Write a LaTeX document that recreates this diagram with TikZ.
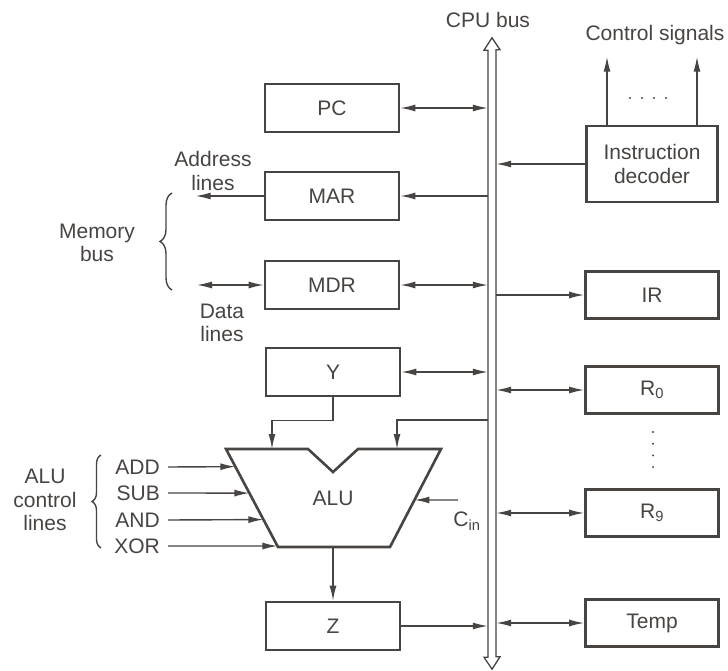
\documentclass[tikz,border=0pt]{standalone}
\usepackage{fontspec}
\setmainfont{Liberation Sans}
\usepackage{xcolor}
\usepackage{tikz}
\usetikzlibrary{arrows.meta, positioning, calc, decorations.pathreplacing}
\definecolor{tinta}{RGB}{72,68,66}

\begin{document}
\begin{tikzpicture}[
    x=1pt, y=-1pt,
    color=tinta,
    font=\fontsize{21}{23.5}\selectfont,
    reg/.style={draw, line width=2.6pt, minimum width=134pt, minimum height=48pt,
                inner sep=0pt, align=center},
    panah/.style={-{Latex[length=15pt,width=7pt]}, line width=1.4pt},
    duapanah/.style={{Latex[length=15pt,width=7pt]}-{Latex[length=15pt,width=7pt]}, line width=1.4pt},
    kurung/.style={decorate, decoration={brace, amplitude=#1}, line width=1.4pt}
  ]
    \path[use as bounding box, fill=white] (0,0) rectangle (728,671);

    % CPU bus
    \node[minimum width=8pt, minimum height=631pt, inner sep=0pt] (bus) at (492,353.5) {};
    \draw[line width=1.3pt, line join=miter] (bus.north) -- ++(8,12) -- ++(-4,0) -- ++(0,607)
      -- ++(4,0) -- (bus.south) -- ++(-8,-12) -- ++(4,0) -- ++(0,-607) -- ++(-4,0) -- cycle;
    \node (cpubus) at (488,20) {CPU bus};

    % left registers
    \node[reg] (pc) at (332,108) {PC};
    \node[reg] (mar) at (332,196) {MAR};
    \node[reg] (mdr) at (332,285) {MDR};
    \node[reg] (yreg) at (333,372) {Y};
    \node[reg] (zreg) at (333,626) {Z};

    % right registers
    \node[reg, minimum width=131pt, minimum height=76pt] (dec) at (652,164) {Instruction\\decoder};
    \node[reg, minimum width=133pt, minimum height=47pt] (ir) at (652,295) {IR};
    \node[reg, minimum width=133pt, minimum height=47pt] (r0) at (652,390) {R\textsubscript{0}};
    \node[reg, minimum width=133pt, minimum height=47pt] (r9) at (652,513) {R\textsubscript{9}};
    \node[reg, minimum width=133pt, minimum height=47pt] (temp) at (652,623) {Temp};

    % ALU
    \coordinate (alutl) at (226,449);
    \coordinate (alutr) at (441,449);
    \coordinate (alubl) at (278,547);
    \coordinate (alubr) at (390,547);
    \draw[line width=2.6pt, line join=miter] (alutl) -- (308,449) -- (333,472) -- (358,449)
      -- (alutr) -- (alubr) -- (alubl) -- cycle;
    \node (alu) at (333,498) {ALU};
    \coordinate (masukA) at (272,449);
    \coordinate (masukB) at (397,449);
    \coordinate (alubot) at (333,547);

    % bus connections
    \draw[duapanah] (pc.east) -- (pc.east -| bus.west);
    \draw[panah] (mar.east -| bus.west) -- (mar.east);
    \draw[duapanah] (mdr.east) -- (mdr.east -| bus.west);
    \draw[duapanah] (yreg.east) -- (yreg.east -| bus.west);
    \draw[panah] (zreg.east) -- (zreg.east -| bus.west);
    \draw[panah] (dec.west) -- (dec.west -| bus.east);
    \draw[panah] (ir.west -| bus.east) -- (ir.west);
    \draw[duapanah] (r0.west) -- (r0.west -| bus.east);
    \draw[duapanah] (r9.west) -- (r9.west -| bus.east);
    \draw[duapanah] (temp.west) -- (temp.west -| bus.east);

    % ALU inputs and output
    \draw[panah] (yreg.south) -- ++(0,23) -| (masukA);
    \draw[panah] (bus.west |- 0,420) -| (masukB);
    \draw[panah] (alubot) -- (zreg.north);
    \foreach \nama/\yy/\t in {ADD/467/0.18, SUB/493/0.45, AND/520/0.72, XOR/546/0.99} {
      \node[anchor=east, inner sep=0pt] (\nama) at (160,\yy) {\nama};
      \draw[panah] ([xshift=8pt]\nama.east) -- ($(alutl)!\t!(alubl)$);
    }
    \draw[kurung=9pt] (101,548) -- (101,455);
    \node[align=center] (aluctl) at (45,500) {ALU\\control\\lines};
    \coordinate (cinsrc) at (458,500);
    \draw[panah] (cinsrc) -- ($(alutr)!0.52!(alubr)$);
    \node (cin) at (467,521) {C\textsubscript{in}};

    % memory bus
    \draw[panah] (mar.west) -- ++(-68,0) coordinate (addrend);
    \node[align=center] (addr) at (213,171) {Address\\lines};
    \coordinate (dataend) at (197,285);
    \draw[duapanah] (dataend) -- (mdr.west);
    \node[align=center] (data) at (222,323) {Data\\lines};
    \draw[kurung=12pt] (172,290) -- (172,193);
    \node[align=center] (membus) at (97,243) {Memory\\bus};

    % control signals
    \draw[panah] ([xshift=-45pt]dec.north) -- ++(0,-68);
    \draw[panah] ([xshift=45pt]dec.north) -- ++(0,-68);
    \node (ctrl) at (655,35) {Control signals};
    \foreach \i in {0,...,3} \fill (630+12*\i,98) circle (1.1pt);
    \foreach \i in {0,...,3} \fill (653,432+11.7*\i) circle (1.1pt);
  \end{tikzpicture}
\end{document}
